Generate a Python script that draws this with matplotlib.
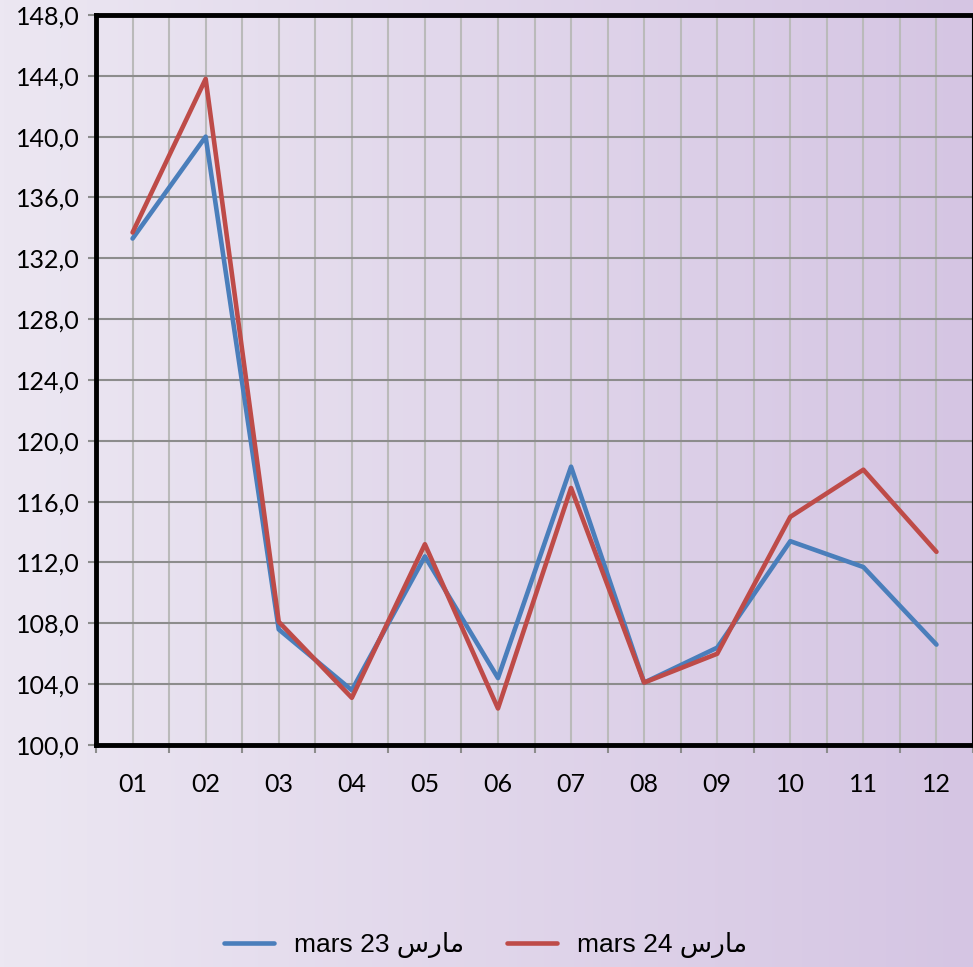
import numpy as np
import matplotlib.pyplot as plt
from matplotlib.colors import LinearSegmentedColormap
from matplotlib.ticker import FuncFormatter, MultipleLocator

# data
months = ['01', '02', '03', '04', '05', '06', '07', '08', '09', '10', '11', '12']
mars23 = [133.3, 140.0, 107.6, 103.6, 112.4, 104.4, 118.3, 104.1, 106.4, 113.4, 111.7, 106.6]
mars24 = [133.7, 143.8, 108.1, 103.1, 113.2, 102.4, 116.9, 104.1, 106.0, 115.0, 118.1, 112.7]

# Arabic "مارس" in shaped presentation forms, visual order
ar = '\uFEB1\uFEAD\uFE8E\uFEE3'
labels = ['mars 23 ' + ar, 'mars 24 ' + ar]

fig = plt.figure(figsize=(9.73, 9.67), dpi=100)

# lavender gradient background over the whole figure
bg = fig.add_axes([0, 0, 1, 1], zorder=0)
cmap = LinearSegmentedColormap.from_list('bg', ['#ece7f2', '#d5c5e3'])
bg.imshow(np.linspace(0, 1, 256).reshape(1, -1), cmap=cmap, aspect='auto',
          extent=[0, 1, 0, 1])
bg.axis('off')

ax = fig.add_axes([0.0987, 0.2296, 0.9013, 0.7549], zorder=1)
ax.patch.set_alpha(0)

x = np.arange(1, len(months) + 1)
l1, = ax.plot(x, mars23, color='#4a7ebb', lw=3.3, solid_capstyle='round', zorder=3)
l2, = ax.plot(x, mars24, color='#be4b48', lw=3.3, solid_capstyle='round', zorder=3)

ax.set_xlim(0.5, 12.5)
ax.set_ylim(100, 148)

ax.set_xticks(x)
ax.set_xticklabels(months)
ax.set_xticks(np.arange(0.5, 13, 1), minor=True)
ax.tick_params(axis='x', which='major', length=0, pad=20, labelsize=18)
ax.tick_params(axis='x', which='minor', length=6, width=1.5, color='#8c8c8c')

ax.yaxis.set_major_locator(MultipleLocator(4))
ax.yaxis.set_major_formatter(FuncFormatter(lambda v, p: f'{v:.1f}'.replace('.', ',')))
ax.tick_params(axis='y', length=6, width=1.5, color='#8c8c8c', pad=6, labelsize=18)

for lab in ax.get_xticklabels() + ax.get_yticklabels():
    lab.set_family(['Lato', 'DejaVu Sans'])

ax.grid(axis='y', which='major', color='#8c8c8c', lw=1.5)
ax.grid(axis='x', which='both', color='#bababa', lw=1.5)
ax.set_axisbelow(True)

for side in ['left', 'top', 'bottom']:
    ax.spines[side].set_linewidth(3.5)
    ax.spines[side].set_color('black')
ax.spines['right'].set_linewidth(1.5)

fig.legend([l1, l2], labels, loc='center', bbox_to_anchor=(0.499, 0.023),
           ncol=2, frameon=False, handlelength=1.9, handletextpad=0.75,
           columnspacing=1.6,
           prop={'family': ['Liberation Sans', 'DejaVu Sans'], 'size': 19})

fig.savefig('out.png', dpi=100)
